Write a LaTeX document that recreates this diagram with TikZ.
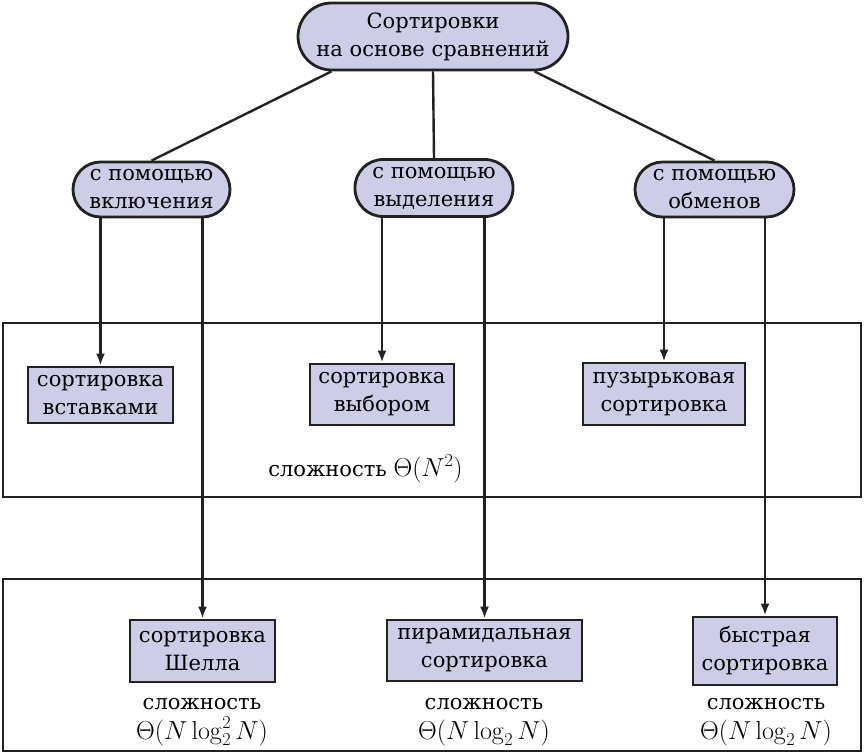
\RequirePackage{fix-cm}
\documentclass[tikz,border=0pt]{standalone}
\usepackage[no-math]{fontspec}
\setmainfont{DejaVu Serif}
\usetikzlibrary{arrows.meta}
\definecolor{boxfill}{RGB}{206,205,232}
\definecolor{ink}{RGB}{34,34,34}
\tikzset{
  pill/.style={draw=ink, fill=boxfill, line width=2.8pt, rectangle,
    inner sep=0pt, align=center},
  sortbox/.style={draw=ink, fill=boxfill, line width=2.8pt, rectangle,
    inner sep=0pt, align=center},
  frame/.style={draw=ink, line width=2.6pt},
  link/.style={draw=ink, line width=2.4pt},
  arr/.style={link, -{Latex[length=12pt,width=9pt]}},
  note/.style={inner sep=0pt, align=center},
  cplx/.style={note, font=\rmfamily\fontsize{21}{30}\selectfont}
}
\newcommand{\mathbig}[1]{{\fontsize{26}{30}\selectfont#1}}
\begin{document}
\begin{tikzpicture}[x=1pt, y=-1pt, font=\rmfamily\fontsize{21}{28}\selectfont]
\useasboundingbox (0,0) rectangle (864,753);

% root and the three families
\node[pill, rounded corners=33.5pt, minimum width=270pt, minimum height=67pt]
  (root) at (433,36.5) {Сортировки\\на основе сравнений};
\node[pill, rounded corners=27.5pt, minimum width=157pt, minimum height=55pt]
  (ins) at (151.5,189.5) {с помощью\\включения};
\node[pill, rounded corners=28pt, minimum width=158pt, minimum height=57pt]
  (sel) at (434,188) {с помощью\\выделения};
\node[pill, rounded corners=27.5pt, minimum width=159pt, minimum height=55pt]
  (exc) at (714.5,189.5) {с помощью\\обменов};

% quadratic group
\draw[frame] (3,323) rectangle (861,497);
\node[sortbox, minimum width=145pt, minimum height=56pt]
  (insq) at (100.5,395) {сортировка\\вставками};
\node[sortbox, minimum width=144pt, minimum height=61pt]
  (selq) at (382,394.5) {сортировка\\выбором};
\node[sortbox, minimum width=162pt, minimum height=62pt]
  (excq) at (664,394) {пузырьковая\\сортировка};
\node[note] (cq) at (365.5,469) {сложность \mathbig{$\Theta(N^2)$}};

% fast group
\draw[frame] (3,579) rectangle (861,751);
\node[sortbox, minimum width=145pt, minimum height=62pt]
  (insf) at (202.5,651) {сортировка\\Шелла};
\node[sortbox, minimum width=195pt, minimum height=61pt]
  (self) at (484.5,650.5) {пирамидальная\\сортировка};
\node[sortbox, minimum width=144pt, minimum height=68pt]
  (excf) at (765,651) {быстрая\\сортировка};
\node[cplx] (cf1) at (202,722) {сложность\\\mathbig{$\Theta(N\log_2^2 N)$}};
\node[cplx] (cf2) at (484,722) {сложность\\\mathbig{$\Theta(N\log_2 N)$}};
\node[cplx] (cf3) at (766,722) {сложность\\\mathbig{$\Theta(N\log_2 N)$}};

% root to families
\draw[link] ([xshift=-101.5pt]root.south) -- (ins.north);
\draw[link] (root.south) -- (sel.north);
\draw[link] ([xshift=101.5pt]root.south) -- (exc.north);

% families to algorithms
\draw[arr] (insq.north |- ins.south) -- (insq.north);
\draw[arr] (insf.north |- ins.south) -- (insf.north);
\draw[arr] (selq.north |- sel.south) -- (selq.north);
\draw[arr] (self.north |- sel.south) -- (self.north);
\draw[arr] (excq.north |- exc.south) -- (excq.north);
\draw[arr] (excf.north |- exc.south) -- (excf.north);
\end{tikzpicture}
\end{document}
